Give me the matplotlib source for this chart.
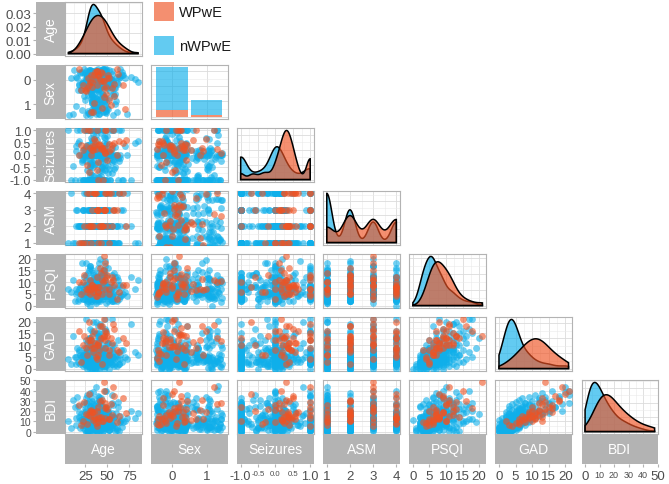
import numpy as np
import matplotlib
matplotlib.use("Agg")
import matplotlib.pyplot as plt
from matplotlib.patches import Rectangle
from matplotlib.colors import to_rgba
from matplotlib.ticker import MaxNLocator, AutoMinorLocator

plt.rcParams['font.family'] = ['Liberation Sans', 'DejaVu Sans']

variables = ["Age", "Sex", "Seizures", "ASM", "PSQI", "GAD", "BDI"]

# ---- nWPwE (blue) ----
age_n = [33, 41, 27, 36, 52, 31, 46, 22, 38, 29,
         44, 34, 58, 26, 32, 49, 37, 31, 63, 24,
         35, 43, 28, 51, 33, 9, 40, 26, 37, 47,
         32, 56, 36, 30, 45, 42, 27, 67, 34, 38,
         21, 43, 31, 53, 29, 36, 48, 17, 33, 28,
         37, 50, 32, 61, 41, 34, 26, 39, 55, 44,
         35, 30, 47, 33, 23, 42, 31, 52, 73, 36,
         46, 29, 38, 25, 44, 32, 54, 13, 34, 48,
         40, 27, 35, 59, 31, 43, 37, 21, 46, 30,
         38, 44, 85, 33, 51, 36, 28, 41, 64, 32,
         47, 34, 25, 39, 31, 57, 36, 43, 18, 33,
         42, 30, 49, 35, 66, 38, 27, 45, 32, 53,
         36, 24, 41, 33, 47, 16, 39, 34, 58, 29,
         44, 35, 51, 27, 38, 32, 62, 42, 31, 46,
         11, 40, 34, 49, 30, 43, 77, 37, 26, 55,
         36, 45, 28, 40, 32, 56, 42, 22, 38, 48,
         33, 41, 26, 52, 37, 30, 44, 60, 35, 28,
         43, 37, 19, 47, 33, 39, 54, 29, 36, 25,
         41, 34, 50, 31, 45, 14, 36, 42, 63, 29,
         38, 46, 31, 35, 27, 44, 58, 33, 40, 23,
         48, 32, 41, 34, 70, 30, 43, 38, 51, 36,
         31, 42, 20, 45, 37, 33, 49, 28, 40, 57,
         34, 44, 30, 39, 53, 41, 26, 46, 32, 18,
         42, 35, 65, 31, 47, 38, 24, 43, 33, 50,
         40, 29, 37, 55, 32, 45, 15, 41, 34, 48,
         36, 52, 28, 43, 39, 31, 46, 61, 33, 22,
         44, 32, 40, 30, 57, 37, 42, 27, 49, 81,
         35, 47, 31, 41, 25, 38, 53, 45, 30, 34,
         43, 68, 36, 33, 46, 40, 29, 51, 32, 62,
         39, 31, 48, 19, 44, 35, 59, 41, 6, 56]
sex_n = [0, 1, 0, 0, 0, 1, 0, 0, 1, 0,
         0, 0, 1, 0, 0, 0, 0, 1, 0, 0,
         1, 0, 0, 0, 1, 0, 0, 0, 0, 1,
         0, 0, 0, 1, 0, 0, 0, 0, 1, 0,
         0, 1, 0, 0, 0, 0, 1, 0, 0, 1,
         0, 0, 0, 0, 1, 0, 0, 1, 0, 0,
         1, 0, 0, 1, 0, 0, 0, 0, 1, 0,
         0, 0, 1, 0, 0, 0, 0, 0, 0, 1,
         0, 0, 0, 1, 0, 1, 0, 0, 1, 0,
         0, 1, 0, 0, 0, 0, 1, 0, 0, 0,
         1, 0, 0, 0, 0, 1, 0, 0, 0, 1,
         0, 0, 0, 1, 0, 0, 0, 1, 0, 0,
         0, 1, 0, 0, 1, 0, 0, 0, 1, 0,
         0, 0, 0, 0, 0, 1, 0, 0, 0, 1,
         1, 0, 0, 1, 0, 0, 0, 1, 0, 0,
         0, 0, 1, 0, 0, 0, 1, 0, 0, 1,
         1, 0, 0, 0, 0, 0, 0, 1, 0, 0,
         0, 1, 0, 0, 1, 0, 0, 0, 1, 0,
         0, 0, 0, 0, 0, 1, 0, 0, 0, 1,
         1, 0, 0, 1, 0, 0, 0, 1, 0, 0,
         0, 0, 1, 0, 0, 0, 0, 0, 1, 0,
         0, 1, 0, 0, 0, 1, 0, 0, 0, 1,
         0, 0, 0, 1, 0, 0, 1, 0, 0, 0,
         1, 0, 0, 0, 1, 0, 0, 0, 1, 0,
         0, 0, 0, 0, 1, 0, 0, 1, 0, 0,
         0, 1, 0, 0, 0, 0, 1, 0, 0, 1,
         0, 0, 1, 0, 0, 0, 0, 0, 1, 0,
         1, 0, 0, 0, 1, 0, 0, 1, 0, 0,
         0, 0, 0, 1, 0, 0, 0, 0, 0, 1,
         0, 1, 0, 0, 0, 1, 0, 0, 1, 0]
seiz_n = [-1, 0, 0.2, -1, 0.1, -0.5, 1, 0, -1, 0.25,
          0, -1, -0.25, 0.15, -1, 0, 0.4, -0.8, 1, -1,
          0.1, -1, 0, -0.45, 0.22, -1, 0.05, 1, 0, -0.15,
          -1, 0.3, 0, -1, -0.55, 0.17, 1, -1, 0, 0.62,
          -0.2, 0, -1, 0.12, 1, -0.35, -1, 0.5, 0, -1,
          0.2, -1, 0, -0.1, -0.9, 1, 0.27, -1, 0.08, 0,
          -1, 0.45, -0.4, 0, -1, 0.13, 1, -0.22, 0, -1,
          0.75, 0, -1, 0.2, -0.67, 1, 0, -1, 0.33, -0.05,
          -1, 0.1, 0, -0.5, 1, -1, 0.23, -0.29, 0, -1,
          0.14, -1, 0.55, 0, -0.75, 1, -1, 0.06, -0.12, 0,
          -1, 0.25, 0, -0.38, 1, -0.2, -1, 0.88, 0, 0.18,
          -1, 0, 0.1, -0.85, 1, -1, 0.42, -0.14, 0, -1,
          0.29, 0, -1, -0.3, 0.7, 1, -1, 0.22, -0.57, 0,
          -1, 0.35, 0, -0.6, 1, -0.08, -1, 0.2, 0, 0.5,
          -0.43, -1, 0.57, 1, 0, -0.18, -1, 0.8, -0.25, 1,
          0, -1, 0.15, 1, -1, 0, -0.3, 0.2, -1, 0.05,
          -1, 0.25, 0, -0.55, 1, -1, 0.1, 0, -0.2, 0.4,
          0.12, 0, -1, 0.3, -0.8, 1, 0, -1, 0.22, -0.1,
          -1, 0, 0.5, -0.45, 1, 0.18, -1, 0, -0.25, 0.1,
          0.2, -1, 0, 0.65, -1, -0.5, 1, 0.27, 0, -1,
          -0.15, 1, -1, 0, 0.35, -0.7, 0.1, -1, 0, 0.23,
          -1, 0.08, 0, -0.4, 1, -1, 0.45, 0, 0.17, -0.05,
          0, -1, 0.3, -0.9, 1, 0.13, -1, 0, -0.35, 0.55,
          -1, 0.2, 0, 1, -0.6, -1, 0.25, -0.12, 0, 0.78,
          0.1, -1, 0, -0.27, 1, -1, 0.38, 0, -0.5, 0.15,
          -1, 0, 0.06, -0.85, 1, 0.29, -1, 0, 0.6, -0.18,
          0, -1, 0.22, -0.33, 1, -1, 0, 0.14, -0.08, 0.48,
          -1, 0.3, 0, -0.65, 1, 0.2, -1, 0, -0.22, 0.85,
          0.1, -1, 0, -0.42, 1, -1, 0.25, 0, 0.7, -0.14,
          -1, 0.19, 0, 1, -0.5, -1, 0.33, 0, 1, -0.75]
asm_n = [1, 2, 1, 3, 2, 4, 2, 1, 1, 3,
         2, 1, 4, 2, 3, 1, 2, 1, 4, 1,
         1, 3, 2, 1, 2, 4, 1, 2, 3, 1,
         4, 1, 2, 2, 3, 1, 2, 4, 1, 1,
         1, 2, 4, 1, 2, 3, 1, 2, 1, 4,
         3, 1, 2, 2, 4, 1, 3, 1, 2, 1,
         1, 4, 2, 1, 3, 2, 1, 2, 4, 1,
         2, 1, 3, 1, 2, 4, 2, 1, 3, 1,
         1, 2, 2, 4, 1, 3, 1, 2, 1, 4,
         4, 2, 1, 2, 3, 1, 2, 1, 4, 1,
         1, 3, 1, 2, 3, 4, 1, 3, 2, 1,
         2, 1, 4, 1, 3, 4, 1, 2, 1, 3,
         1, 4, 1, 3, 2, 3, 4, 1, 1, 2,
         3, 1, 2, 1, 4, 4, 1, 3, 2, 1,
         1, 2, 1, 4, 3, 3, 2, 1, 4, 1,
         3, 1, 1, 2, 4, 1, 2, 3, 1, 2,
         1, 4, 2, 1, 3, 1, 4, 2, 1, 2,
         1, 3, 2, 1, 4, 2, 1, 3, 2, 1,
         1, 1, 4, 2, 1, 3, 2, 2, 1, 4,
         4, 1, 2, 1, 2, 1, 3, 2, 4, 1,
         1, 2, 3, 1, 2, 4, 2, 1, 1, 3,
         1, 4, 2, 1, 2, 3, 1, 2, 4, 1,
         1, 3, 1, 2, 4, 2, 1, 3, 1, 2,
         4, 1, 2, 1, 3, 1, 2, 2, 1, 4,
         1, 1, 4, 2, 3, 1, 2, 1, 4, 2,
         1, 2, 3, 1, 4, 3, 1, 2, 1, 3,
         3, 1, 2, 4, 1, 1, 3, 4, 2, 1,
         2, 1, 4, 3, 1, 3, 1, 4, 1, 2,
         1, 3, 2, 4, 1, 4, 1, 3, 2, 1,
         1, 4, 3, 1, 2, 3, 1, 4, 1, 2]
psqi_n = [2, 6, 1, 9, 4, 0, 7, 3, 11, 5,
          4, 8, 2, 13, 6, 1, 5, 10, 3, 7,
          3, 12, 5, 2, 8, 6, 4, 9, 1, 6,
          7, 4, 10, 3, 14, 5, 2, 8, 6, 4,
          5, 9, 3, 6, 11, 4, 7, 2, 15, 6,
          8, 4, 6, 12, 3, 7, 5, 10, 2, 6,
          5, 11, 4, 7, 3, 9, 16, 6, 4, 8,
          6, 3, 9, 5, 13, 4, 7, 2, 10, 5,
          4, 8, 6, 12, 3, 7, 5, 18, 6, 9,
          7, 5, 11, 3, 8, 6, 14, 4, 9, 2,
          6, 10, 4, 8, 17, 5, 7, 12, 3, 9,
          9, 5, 13, 7, 4, 11, 6, 15, 8, 3,
          7, 12, 5, 9, 19, 6, 10, 4, 14, 8,
          10, 6, 16, 8, 12, 5, 9, 20, 7, 13,
          11, 7, 14, 9, 17, 6, 12, 10, 18, 8,
          7, 3, 4, 9, 5, 2, 8, 6, 3, 10,
          4, 6, 5, 8, 12, 3, 9, 7, 5, 2,
          6, 11, 5, 4, 6, 14, 3, 7, 5, 9,
          3, 5, 8, 6, 4, 7, 2, 10, 6, 15,
          5, 9, 6, 4, 7, 3, 8, 11, 2, 6,
          4, 5, 7, 13, 6, 8, 12, 3, 5, 4,
          6, 2, 9, 5, 4, 10, 7, 6, 16, 5,
          3, 7, 5, 9, 6, 4, 11, 5, 8, 7,
          5, 6, 4, 3, 9, 8, 6, 12, 4, 8,
          7, 3, 5, 10, 4, 6, 5, 18, 3, 11,
          6, 4, 8, 7, 5, 9, 14, 2, 6, 5,
          5, 8, 7, 4, 3, 6, 12, 9, 6, 7,
          4, 5, 6, 13, 3, 8, 7, 10, 4, 5,
          6, 5, 4, 7, 15, 3, 9, 8, 5, 11,
          6, 3, 17, 8, 5, 12, 4, 9, 7, 13]
gad_n = [0, 0, 0, 0, 0, 0, 0, 1, 1, 1,
         1, 1, 1, 1, 1, 1, 1, 2, 2, 2,
         2, 2, 2, 2, 2, 2, 2, 2, 2, 2,
         2, 2, 3, 3, 3, 3, 3, 3, 3, 3,
         3, 3, 3, 3, 3, 3, 3, 3, 3, 3,
         3, 3, 4, 4, 4, 4, 4, 4, 4, 4,
         4, 4, 4, 4, 4, 4, 4, 4, 4, 4,
         4, 4, 5, 5, 5, 5, 5, 5, 5, 5,
         5, 5, 5, 5, 5, 5, 5, 5, 5, 5,
         6, 6, 6, 6, 6, 6, 6, 6, 6, 6,
         6, 6, 6, 7, 7, 7, 7, 7, 7, 7,
         7, 7, 7, 8, 8, 8, 8, 8, 8, 8,
         9, 9, 9, 9, 9, 9, 10, 10, 10, 10,
         10, 11, 11, 11, 12, 12, 12, 13, 13, 14,
         14, 15, 15, 16, 17, 18, 19, 20, 21, 21,
         3, 5, 1, 8, 4, 2, 12, 6, 0, 4,
         5, 2, 7, 3, 15, 4, 1, 6, 9, 3,
         4, 10, 2, 5, 3, 18, 6, 1, 4, 7,
         2, 6, 4, 11, 3, 5, 0, 8, 2, 13,
         5, 3, 9, 4, 2, 7, 4, 16, 3, 6,
         1, 4, 3, 20, 5, 2, 8, 4, 6, 3,
         7, 3, 5, 2, 4, 10, 6, 3, 14, 5,
         4, 2, 6, 9, 3, 5, 12, 1, 4, 8,
         3, 6, 4, 2, 17, 5, 3, 7, 0, 11,
         5, 1, 4, 8, 3, 6, 2, 15, 4, 9,
         2, 5, 7, 3, 4, 13, 6, 1, 5, 3,
         6, 4, 10, 2, 5, 3, 19, 8, 4, 7,
         4, 3, 5, 12, 2, 6, 4, 9, 1, 5,
         3, 8, 5, 4, 16, 2, 6, 11, 3, 7,
         5, 4, 21, 6, 3, 9, 2, 14, 4, 10]
bdi_n = [0, 4, 1, 7, 2, 11, 3, 6, 1, 9,
         5, 2, 13, 0, 8, 3, 6, 10, 1, 16,
         4, 9, 1, 14, 6, 3, 19, 7, 2, 11,
         8, 3, 12, 5, 1, 17, 9, 4, 22, 6,
         10, 2, 7, 15, 4, 13, 5, 25, 8, 3,
         6, 18, 9, 2, 12, 5, 21, 7, 14, 4,
         11, 3, 16, 8, 27, 5, 10, 2, 13, 7,
         15, 6, 9, 19, 4, 12, 8, 24, 5, 11,
         7, 17, 10, 3, 14, 29, 6, 12, 9, 20,
         13, 5, 18, 9, 23, 11, 7, 31, 15, 8,
         10, 21, 6, 16, 12, 26, 9, 18, 14, 33,
         8, 19, 13, 22, 11, 17, 28, 10, 24, 15,
         20, 12, 27, 16, 9, 34, 18, 23, 14, 30,
         25, 13, 19, 36, 21, 15, 29, 17, 38, 22,
         31, 18, 27, 40, 24, 33, 20, 44, 28, 36,
         9, 4, 2, 15, 12, 6, 20, 3, 1, 7,
         6, 14, 11, 2, 28, 5, 8, 18, 10, 4,
         16, 12, 3, 9, 7, 35, 5, 4, 2, 22,
         5, 8, 10, 25, 1, 13, 3, 6, 9, 18,
         3, 11, 19, 6, 4, 9, 14, 30, 8, 12,
         6, 2, 13, 39, 10, 7, 16, 5, 4, 3,
         8, 5, 17, 4, 11, 21, 9, 1, 26, 7,
         4, 10, 14, 12, 6, 2, 33, 3, 8, 19,
         2, 6, 9, 5, 24, 15, 12, 10, 4, 16,
         11, 0, 7, 28, 4, 13, 6, 20, 3, 14,
         8, 5, 12, 9, 2, 17, 22, 3, 10, 6,
         7, 15, 18, 3, 6, 4, 27, 11, 5, 13,
         9, 7, 4, 31, 2, 10, 12, 17, 5, 8,
         13, 9, 6, 3, 22, 4, 15, 19, 5, 24,
         5, 8, 40, 11, 4, 26, 1, 34, 10, 18]

# ---- WPwE (orange) ----
age_w = [44, 38, 52, 27, 41, 61, 33, 47, 22, 39, 55, 36, 48, 30, 43, 68, 50, 46, 35, 18, 42, 57, 29,
         40, 34, 49, 26, 45, 37, 58, 31, 32, 52, 24, 46, 39, 71, 35, 48, 28, 20, 54, 38, 44, 63, 33]
sex_w = [0, 0, 1, 0, 0, 0, 0, 1, 0, 0, 0, 0, 1, 0, 0, 0, 0, 0, 1, 0, 0, 1, 0,
         0, 1, 0, 0, 0, 0, 0, 0, 1, 0, 0, 0, 0, 1, 0, 0, 0, 0, 1, 0, 1, 0, 0]
seiz_w = [0.3, 1, 0.15, -0.4, 0.45, 0, 0.35, 1, 0.2, -1, 0.4, 0.55, 0.1, 1, 0.25, 0.5,
          -0.2, 0.3, 0.65, 0, 0.4, 1, -0.7,
          0.4, 0.2, 1, 0.35, -1, 0.25, 0.5, 0.3, 0, 0.45, 1, 0.15, -0.3, 0.6, 0.35, 0.1,
          1, 0.4, 0.25, -0.6, 0.3, 0.55, 0.2]
asm_w = [2, 3, 1, 4, 2, 3, 2, 4, 1, 3, 2, 4, 3, 2, 1, 4, 2, 3, 4, 1, 2, 3, 4,
         3, 2, 4, 1, 2, 4, 3, 2, 1, 4, 2, 3, 1, 2, 4, 3, 2, 1, 4, 3, 2, 4, 3]
psqi_w = [5, 4, 7, 6, 8, 3, 9, 7, 10, 6, 12, 8, 11, 5, 14, 9, 13, 21, 7, 10, 16, 11, 8,
          8, 6, 12, 7, 10, 4, 9, 11, 7, 5, 13, 15, 6, 9, 8, 18, 7, 5, 10, 12, 11, 6, 9]
gad_w = [2, 4, 6, 6, 8, 8, 9, 9, 10, 10, 11, 11, 12, 12, 13, 13, 14, 14, 16, 16, 18, 19, 20,
         11, 7, 15, 9, 13, 5, 17, 10, 12, 8, 14, 21, 6, 11, 9, 16, 12, 3, 13, 10, 18, 7, 14]
bdi_w = [10, 5, 12, 7, 14, 9, 19, 13, 10, 24, 16, 12, 28, 20, 14, 33, 22, 48, 19, 26, 30, 44, 37,
         13, 11, 24, 17, 10, 8, 35, 15, 21, 12, 29, 40, 9, 18, 14, 23, 16, 6, 27, 20, 31, 15, 19]

data_n = dict(zip(variables, [age_n, sex_n, seiz_n, asm_n, psqi_n, gad_n, bdi_n]))
data_w = dict(zip(variables, [age_w, sex_w, seiz_w, asm_w, psqi_w, gad_w, bdi_w]))

blue = "#0FAFEA"
orange = "#EF5323"
fill_alpha = 0.65
pt_alpha = 0.6

major = {"Age": [25, 50, 75], "Sex": [0, 1], "Seizures": [-1, -0.5, 0, 0.5, 1],
         "ASM": [1, 2, 3, 4], "PSQI": [0, 5, 10, 15, 20], "GAD": [0, 5, 10, 15, 20],
         "BDI": [0, 10, 20, 30, 40, 50]}
minor = {"Age": [12.5, 37.5, 62.5, 87.5], "Sex": [], "Seizures": [-0.75, -0.25, 0.25, 0.75],
         "ASM": [1.5, 2.5, 3.5], "PSQI": [2.5, 7.5, 12.5, 17.5], "GAD": [2.5, 7.5, 12.5, 17.5],
         "BDI": [5, 15, 25, 35, 45]}
labels = {"Seizures": ["-1.0", "-0.5", "0.0", "0.5", "1.0"]}
adjust = {"Age": 1.3, "Seizures": 0.9, "ASM": 0.7, "PSQI": 1.0, "GAD": 1.35, "BDI": 1.3}
jit = {"Age": 0.4, "Sex": 0.45, "Seizures": 0.0, "ASM": 0.4, "PSQI": 0.4, "GAD": 0.4, "BDI": 0.4}
ylab_size = {"Seizures": 9, "PSQI": 9, "GAD": 9, "BDI": 7.5}


def limits(name):
    if name == "Sex":
        return (-0.6, 1.6)
    v = np.r_[data_n[name], data_w[name]]
    pad = 0.05 * (v.max() - v.min())
    return v.min() - pad, v.max() + pad


def nrd0(v):
    sd = v.std(ddof=1)
    q75, q25 = np.percentile(v, [75, 25])
    lo = min(sd, (q75 - q25) / 1.34) or sd
    return 0.9 * lo * len(v) ** -0.2


def jitter_offsets(n, amp, a, b):
    # deterministic stand-in for geom_jitter
    k = np.arange(1, n + 1)
    return (np.modf(k * a + b)[0] - 0.5) * 2 * amp


W, H = 669, 485
fig = plt.figure(figsize=(W / 100, H / 100), dpi=100)


def add_px(x, y, w, h):
    return fig.add_axes([x / W, 1 - (y + h) / H, w / W, h / H])


col_x = [65 + 86.1 * j for j in range(7)]
row_y = [3 + 63 * i for i in range(7)]
pw, ph = 76.5, 54
grey_txt = "#4D4D4D"


def style_panel(ax, xname, yname=None):
    ax.set_facecolor("white")
    for s in ax.spines.values():
        s.set_color("#B3B3B3")
        s.set_linewidth(0.8)
    ax.set_xticks(major[xname])
    ax.set_xticks(minor[xname], minor=True)
    if yname is not None:
        ax.set_yticks(major[yname])
        ax.set_yticks(minor[yname], minor=True)
    ax.grid(which="major", color="#DCDCDC", lw=0.6)
    ax.grid(which="minor", color="#EAEAEA", lw=0.4)
    ax.set_axisbelow(True)
    ax.tick_params(which="both", length=0, labelbottom=False, labelleft=False)


row_lims = {}
for i, yname in enumerate(variables):
    for j, xname in enumerate(variables[:i + 1]):
        ax = add_px(col_x[j], row_y[i], pw, ph)
        if i == j and xname == "Sex":
            cw = [data_w["Sex"].count(0), data_w["Sex"].count(1)]
            cn = [data_n["Sex"].count(0), data_n["Sex"].count(1)]
            ax.bar([0, 1], cw, width=0.9, color=orange, alpha=fill_alpha, lw=0)
            ax.bar([0, 1], cn, bottom=cw, width=0.9, color=blue, alpha=fill_alpha, lw=0)
            top = max(a + b for a, b in zip(cw, cn))
            style_panel(ax, xname)
            ax.yaxis.set_major_locator(MaxNLocator(4))
            ax.yaxis.set_minor_locator(AutoMinorLocator(2))
            ax.set_ylim(-0.05 * top, 1.05 * top)
            ax.set_xlim(limits(xname))
        elif i == j:
            allv = np.r_[data_n[xname], data_w[xname]].astype(float)
            grid = np.linspace(allv.min(), allv.max(), 512)
            dens = []
            for vals in (data_n[xname], data_w[xname]):
                v = np.asarray(vals, float)
                bw = nrd0(v) * adjust[xname]
                z = (grid[:, None] - v[None, :]) / bw
                dens.append(np.exp(-0.5 * z ** 2).sum(1) / (len(v) * bw * np.sqrt(2 * np.pi)))
            for d, col in zip(dens, (blue, orange)):
                ax.fill(np.r_[grid[0], grid, grid[-1]], np.r_[0, d, 0],
                        fc=to_rgba(col, fill_alpha), ec="black", lw=1.1, zorder=3)
            top = max(d.max() for d in dens)
            style_panel(ax, xname)
            ax.yaxis.set_major_locator(MaxNLocator(4))
            ax.yaxis.set_minor_locator(AutoMinorLocator(2))
            ax.set_ylim(-0.05 * top, 1.05 * top)
            ax.set_xlim(limits(xname))
            if i == 0:
                row_lims[0] = ax.get_ylim()
        else:
            use_jit = "Sex" in (xname, yname)
            for d, col in ((data_n, blue), (data_w, orange)):
                x = np.asarray(d[xname], float)
                y = np.asarray(d[yname], float)
                if use_jit:
                    x = x + jitter_offsets(len(x), jit[xname], 0.7548776662, 0.13)
                    y = y + jitter_offsets(len(y), jit[yname], 0.5698402910, 0.61)
                ax.scatter(x, y, s=24, c=col, alpha=pt_alpha, linewidths=0, zorder=3)
            style_panel(ax, xname, yname)
            ax.set_xlim(limits(xname))
            if yname == "Sex":
                ax.set_ylim(1.6, -0.6)
            else:
                ax.set_ylim(limits(yname))

# left strips with y axes
for i, yname in enumerate(variables):
    sa = add_px(36, row_y[i], 29, ph)
    sa.set_facecolor("#B3B3B3")
    for s in sa.spines.values():
        s.set_visible(False)
    sa.set_xticks([])
    if i == 0:
        lo, hi = row_lims[0]
        sa.set_ylim(lo, hi)
        ticks = [t for t in [0, 0.01, 0.02, 0.03] if lo <= t <= hi]
        sa.set_yticks(ticks, ["%.2f" % t for t in ticks])
    else:
        if yname == "Sex":
            sa.set_ylim(1.6, -0.6)
        else:
            sa.set_ylim(limits(yname))
        sa.set_yticks(major[yname], labels.get(yname, [str(t) for t in major[yname]]))
    sa.tick_params(axis="y", length=2, color="#B3B3B3", labelsize=ylab_size.get(yname, 9.5),
                   labelcolor=grey_txt, pad=1.5)
    sa.text(0.5, 0.5, yname, transform=sa.transAxes, rotation=90, ha="center",
            va="center", color="white", fontsize=10, clip_on=True)

# bottom strips with x axes
small = {"Seizures": ["-0.5", "0.0", "0.5"], "BDI": ["10", "20", "30", "40"]}
xlab_size = {"Seizures": 9}
for j, xname in enumerate(variables):
    sa = add_px(col_x[j], 435, pw, 30)
    sa.set_facecolor("#B3B3B3")
    for s in sa.spines.values():
        s.set_visible(False)
    sa.set_yticks([])
    sa.set_xlim(limits(xname))
    sa.set_xticks(major[xname], labels.get(xname, [str(t) for t in major[xname]]))
    sa.tick_params(axis="x", length=2.5, color="#B3B3B3", labelsize=xlab_size.get(xname, 9.5),
                   labelcolor=grey_txt, pad=1.5)
    for lab in sa.get_xticklabels():
        if lab.get_text() in small.get(xname, []):
            lab.set_fontsize(5.6 if xname == "Seizures" else 6.5)
    sa.text(0.5, 0.5, xname, transform=sa.transAxes, ha="center", va="center",
            color="white", fontsize=10, clip_on=True)

# legend
for y0, col, name in ((3, orange, "WPwE"), (37, blue, "nWPwE")):
    fig.add_artist(Rectangle((154 / W, 1 - (y0 + 19) / H), 20 / W, 19 / H,
                             transform=fig.transFigure, fc=to_rgba(col, fill_alpha), ec="none"))
    fig.text(179 / W, 1 - (y0 + 10) / H, name, ha="left", va="center",
             fontsize=10.5, color="#1A1A1A")

fig.savefig("out.png", dpi=100)
